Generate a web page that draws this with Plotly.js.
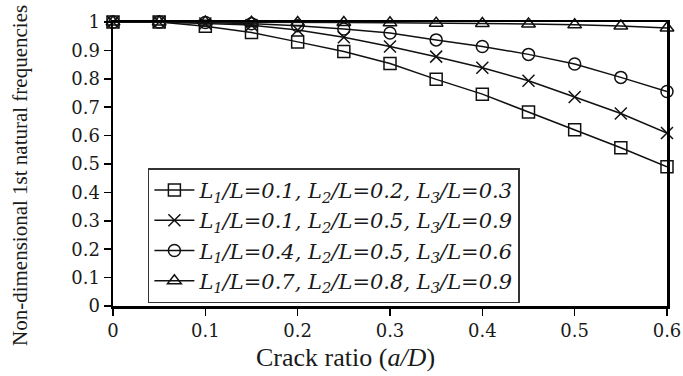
<!DOCTYPE html>
<html>
<head>
<meta charset="utf-8">
<script src="https://cdn.plot.ly/plotly-3.0.1.min.js"></script>
<style>html,body{margin:0;padding:0;background:#fff;}#chart{width:683px;height:376px;}</style>
</head>
<body>
<div id="chart"></div>
<script>
var crackRatio = [0, 0.05, 0.1, 0.15, 0.2, 0.25, 0.3, 0.35, 0.4, 0.45, 0.5, 0.55, 0.6];
var case1 = [1, 1, 0.985, 0.963, 0.93, 0.896, 0.854, 0.798, 0.746, 0.683, 0.621, 0.557, 0.49];
var case2 = [1, 1, 0.995, 0.989, 0.972, 0.946, 0.914, 0.878, 0.839, 0.793, 0.736, 0.678, 0.609];
var case3 = [1, 1, 0.998, 0.994, 0.987, 0.975, 0.961, 0.937, 0.914, 0.886, 0.852, 0.805, 0.755];
var case4 = [1, 1, 1, 0.999, 0.998, 0.998, 0.997, 0.996, 0.995, 0.993, 0.99, 0.986, 0.979];
var legendNames = [
  "L<sub>1</sub>/L=0.1, L<sub>2</sub>/L=0.2, L<sub>3</sub>/L=0.3",
  "L<sub>1</sub>/L=0.1, L<sub>2</sub>/L=0.5, L<sub>3</sub>/L=0.9",
  "L<sub>1</sub>/L=0.4, L<sub>2</sub>/L=0.5, L<sub>3</sub>/L=0.6",
  "L<sub>1</sub>/L=0.7, L<sub>2</sub>/L=0.8, L<sub>3</sub>/L=0.9"
];
var xTicks = [0, 0.1, 0.2, 0.3, 0.4, 0.5, 0.6];
var xTickText = ["0", "0.1", "0.2", "0.3", "0.4", "0.5", "0.6"];
var yTicks = [0, 0.1, 0.2, 0.3, 0.4, 0.5, 0.6, 0.7, 0.8, 0.9, 1];
var yTickText = ["0", "0.1", "0.2", "0.3", "0.4", "0.5", "0.6", "0.7", "0.8", "0.9", "1"];
var xTitle = "Crack ratio (<i>a/D</i>)";
var yTitle = "Non-dimensional 1st natural frequencies";
var symbols = ["square-open", "x-thin-open", "circle-open", "triangle-up-open"];
var series = [case1, case2, case3, case4];

var wide = "DejaVu Serif, serif";
var narrow = "Liberation Serif, Times New Roman, serif";

var traces = series.map(function (ys, i) {
  return {
    x: crackRatio, y: ys, name: legendNames[i], type: "scatter", mode: "lines+markers",
    cliponaxis: false,
    line: {color: "#111", width: 1.5},
    marker: {symbol: symbols[i], size: 12, color: "#111", line: {color: "#111", width: 1.5}}
  };
});

var layout = {
  width: 683, height: 376,
  margin: {l: 113, r: 16, t: 22, b: 70},
  paper_bgcolor: "#fff", plot_bgcolor: "#fff",
  font: {family: narrow, color: "#1a1a1a", size: 18},
  showlegend: true,
  legend: {
    x: 0.063, y: 0.485, xanchor: "left", yanchor: "top",
    bordercolor: "#333", borderwidth: 1.5, bgcolor: "#fff",
    font: {family: wide, size: 21, style: "italic", color: "#1a1a1a"},
    tracegroupgap: 0, itemwidth: 40
  },
  xaxis: {
    range: [0, 0.6], tickvals: xTicks, ticktext: xTickText,
    showgrid: false, zeroline: false, showline: true, linecolor: "#000", linewidth: 2.5,
    mirror: true, ticks: "outside", ticklen: 7, tickwidth: 1.5, tickcolor: "#000",
    tickfont: {family: wide, size: 18}
  },
  yaxis: {
    range: [0, 1], tickvals: yTicks, ticktext: yTickText,
    showgrid: false, zeroline: false, showline: true, linecolor: "#000", linewidth: 2.5,
    mirror: true, ticks: "outside", ticklen: 7, tickwidth: 1.5, tickcolor: "#000",
    tickfont: {family: wide, size: 18}
  },
  annotations: [{
    text: xTitle, xref: "paper", yref: "paper", x: 0.419, y: -0.183,
    xanchor: "center", yanchor: "middle", showarrow: false,
    font: {family: narrow, size: 26, color: "#1a1a1a"}
  }, {
    text: yTitle, xref: "paper", yref: "paper", x: -0.168, y: 0.461,
    xanchor: "center", yanchor: "middle", showarrow: false, textangle: -90,
    font: {family: narrow, size: 21, color: "#1a1a1a"}
  }]
};

Plotly.newPlot("chart", traces, layout, {displayModeBar: false, staticPlot: true});
</script>
</body>
</html>
